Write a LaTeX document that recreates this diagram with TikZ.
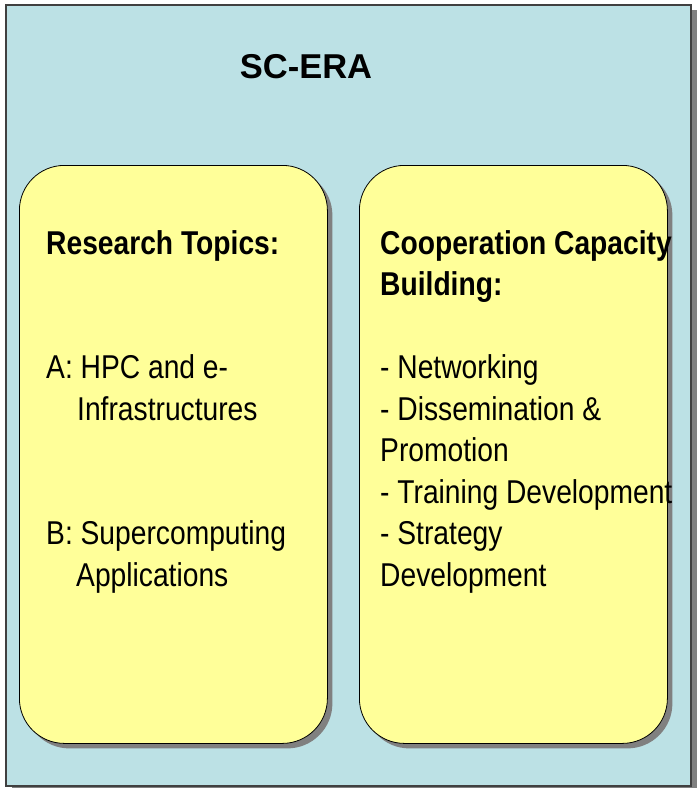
\documentclass[tikz,border=0pt]{standalone}
\usepackage{fontspec}
\setmainfont{Liberation Sans}
\newfontfamily\narrowfont[FakeStretch=0.855]{Liberation Sans}
\usetikzlibrary{shadows, positioning}
\definecolor{eraback}{HTML}{BCE1E5}
\definecolor{topicfill}{HTML}{FFFF99}
\definecolor{shadowgray}{HTML}{808080}
\tikzset{
    frame/.style={rectangle, draw=black!75, line width=1.5pt, fill=eraback, minimum width=685pt, minimum height=781pt, anchor=north west, inner sep=0pt,
        drop shadow={shadow xshift=6pt, shadow yshift=-5pt, fill=shadowgray, opacity=1}},
    column/.style={rectangle, rounded corners=45pt, draw=black, line width=0.8pt, fill=topicfill, minimum width=308pt, minimum height=578pt, anchor=north west, inner sep=0pt,
        drop shadow={shadow xshift=5pt, shadow yshift=-5pt, fill=shadowgray, opacity=1}},
    heading/.style={font=\bfseries\fontsize{34.5}{40}\selectfont, inner sep=0pt},
    listing/.style={font=\narrowfont\fontsize{33}{41.5}\selectfont, align=left, inner sep=0pt}
}

\begin{document}
\begin{tikzpicture}[x=1pt, y=-1pt]
    \useasboundingbox (0,0) rectangle (697,788);

    % outer frame and title
    \node[frame] (era) at (5,4) {};
    \node[heading, anchor=base] (title) at (306,78) {SC-ERA};

    % the two columns
    \node[column] (research) at (19,165) {};
    \node[column] (cooperation) at (359,165) {};

    % column texts
    \node[listing, below right=65pt and 27pt of research.north west] (researchtext)
        {\textbf{Research Topics:}\\[83pt]
         A: HPC and e-\\
         \hspace*{31pt}Infrastructures\\[83pt]
         B: Supercomputing\\
         \hspace*{30pt}Applications};
    \node[listing, below right=65pt and 21pt of cooperation.north west] (cooperationtext)
        {\textbf{Cooperation Capacity}\\
         \textbf{Building:}\\[41.5pt]
         - Networking\\
         - Dissemination \&\\
         Promotion\\
         - Training Development\\
         - Strategy\\
         Development};
\end{tikzpicture}
\end{document}
